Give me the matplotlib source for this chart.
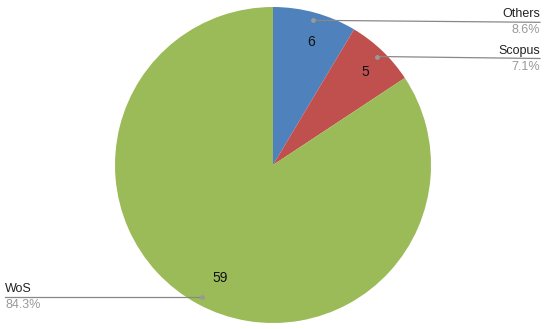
import numpy as np
import matplotlib.pyplot as plt

plt.rcParams["font.family"] = ["Liberation Sans", "DejaVu Sans"]

sources = ["Others", "Scopus", "WoS"]
counts = [6, 5, 59]
colors = ["#4F81BD", "#C0504D", "#9BBB59"]

fig = plt.figure(figsize=(5.5, 3.29), dpi=100)
ax = fig.add_axes([0, 0, 1, 1])

cx, cy, r = 273, 164, 158
wedges, texts = ax.pie(counts, colors=colors, startangle=90, counterclock=False,
                       center=(cx, cy), radius=r, labels=[str(c) for c in counts],
                       labeldistance=0.81, frame=True,
                       textprops={"fontsize": 10, "color": "#111111"},
                       wedgeprops={"linewidth": 0})
ax.set_xlim(0, 550)
ax.set_ylim(0, 329)
ax.set_aspect("equal")
ax.axis("off")

total = sum(counts)
line_col = "#888888"
for w, name, c in zip(wedges, sources, counts):
    ang = np.deg2rad((w.theta1 + w.theta2) / 2)
    px = cx + 0.95 * r * np.cos(ang)
    py = cy + 0.95 * r * np.sin(ang)
    pct = f"{100 * c / total:.1f}%"
    if np.cos(ang) >= 0:
        ex, ey = 540, py - 2
        ha = "right"
    else:
        ex, ey = 5, py
        ha = "left"
    ax.plot([px, ex], [py, ey], color=line_col, lw=0.9)
    ax.plot(px, py, "o", color="#999999", ms=2.5)
    ax.text(ex, ey + 2, name, ha=ha, va="bottom", fontsize=9, color="#222222")
    ax.text(ex, ey - 2, pct, ha=ha, va="top", fontsize=9, color="#9a9a9a")

fig.savefig("out.png", dpi=100)
